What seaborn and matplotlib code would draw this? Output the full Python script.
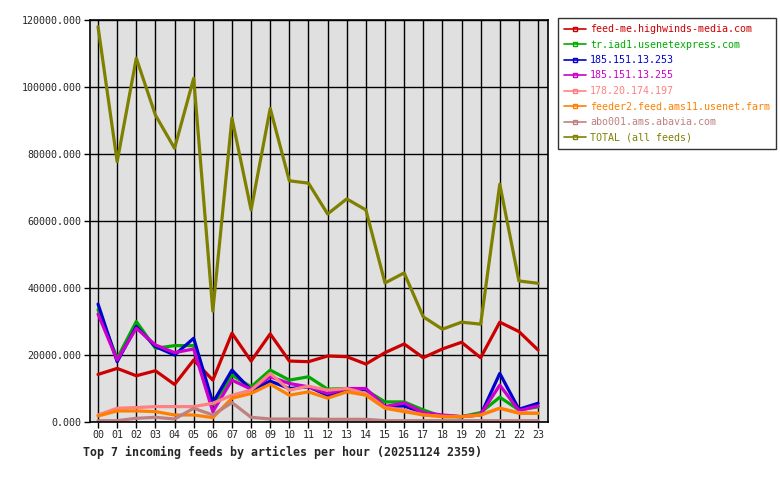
import matplotlib
matplotlib.use('Agg')
import matplotlib.pyplot as plt
import numpy as np
import pandas as pd
import seaborn as sns
from matplotlib.lines import Line2D

hours = [f'{h:02d}' for h in range(24)]

feeds = [
    'feed-me.highwinds-media.com',
    'tr.iad1.usenetexpress.com',
    '185.151.13.253',
    '185.151.13.255',
    '178.20.174.197',
    'feeder2.feed.ams11.usenet.farm',
    'abo001.ams.abavia.com',
    'TOTAL (all feeds)',
]

colors = ['#cc0000', '#00aa00', '#0000cc', '#cc00cc',
          '#ff8080', '#ff8000', '#c08080', '#808000']

highwinds = [14200, 16000, 13800, 15300, 11200, 18500, 12500, 26500, 18200, 26300, 18200, 18000,
             19700, 19500, 17300, 20700, 23300, 19200, 21800, 23800, 19200, 29800, 27000, 21500]
usenetexpress = [33500, 19000, 30000, 22000, 22800, 22800, 5100, 14000, 10500, 15500, 12500, 13500,
                 9800, 10000, 9500, 6000, 6000, 3600, 1600, 1600, 2800, 7400, 3600, 4500]
ip_253 = [35200, 18000, 28500, 22500, 20000, 25000, 5700, 15500, 9500, 12200, 10000, 10500,
          8000, 9500, 9800, 4600, 4800, 2600, 1800, 1600, 2100, 14500, 3800, 5600]
ip_255 = [32200, 18500, 28000, 23000, 20700, 21800, 3100, 12500, 9800, 13500, 11500, 10500,
          8500, 10000, 10000, 4600, 5700, 2800, 2100, 1600, 2300, 11000, 3400, 4800]
ip_197 = [2100, 4100, 4300, 4600, 4600, 4600, 5600, 8000, 9500, 14500, 9500, 10700,
          9500, 10000, 8500, 4300, 3600, 2100, 1700, 1600, 2100, 4100, 2800, 2600]
ams11 = [1800, 3300, 3300, 3100, 2100, 2100, 1300, 7100, 8500, 11300, 8000, 9000,
         7100, 9000, 8000, 4100, 3100, 2100, 1600, 1600, 2100, 4100, 2600, 2600]
abavia = [400, 400, 1100, 1400, 900, 4100, 2100, 5800, 1400, 900, 900, 900,
          800, 800, 800, 400, 400, 400, 400, 400, 400, 400, 400, 400]
total = [118000, 77700, 108600, 91600, 81700, 102600, 33100, 90700, 63300, 93600, 72000, 71300,
         62100, 66600, 63300, 41500, 44500, 31400, 27700, 29800, 29200, 71000, 42100, 41400]

series = [highwinds, usenetexpress, ip_253, ip_255, ip_197, ams11, abavia, total]

df = pd.concat(
    [pd.DataFrame({'hour': range(24), 'articles': vals, 'feed': name})
     for name, vals in zip(feeds, series)],
    ignore_index=True,
)

sns.set_theme(style='ticks')
plt.rcParams['font.family'] = ['DejaVu Sans Mono', 'DejaVu Sans']

fig = plt.figure(figsize=(7.8, 4.8), dpi=100)
ax = fig.add_axes([90 / 780, 1 - 422 / 480, 458 / 780, 402 / 480])
ax.set_facecolor('#e0e0e0')

sns.lineplot(data=df, x='hour', y='articles', hue='feed', hue_order=feeds,
             palette=colors, linewidth=2.3, legend=False, ax=ax)

ax.set_xlim(-0.42, 23.52)
ax.set_ylim(0, 120000)
ax.set_xticks(range(24))
ax.set_xticklabels(hours)
ax.set_yticks(np.arange(0, 120001, 20000))
ax.set_yticklabels([f'{v:.3f}' for v in np.arange(0, 120001, 20000)])
ax.grid(True, color='black', linewidth=1)
ax.set_axisbelow(True)
for s in ax.spines.values():
    s.set_color('black')
    s.set_linewidth(1.2)
ax.tick_params(axis='both', length=4, width=1, color='black', labelsize=7.2, pad=2)
ax.set_xlabel('')
ax.set_ylabel('')

handles = [Line2D([0], [0], color=c, linewidth=1.2, marker='s', markersize=2.5,
                  fillstyle='none') for c in colors]
leg = fig.legend(handles, feeds, loc='upper left', bbox_to_anchor=(558 / 780, 1 - 18 / 480),
                 fontsize=7.2, frameon=True, fancybox=False, handlelength=2.2,
                 handletextpad=0.4, borderpad=0.6, labelspacing=0.55, borderaxespad=0)
leg.get_frame().set_edgecolor('black')
leg.get_frame().set_linewidth(1)
for txt, c in zip(leg.get_texts(), colors):
    txt.set_color(c)

fig.text(83 / 780, 1 - 452 / 480, 'Top 7 incoming feeds by articles per hour (20251124 2359)',
         fontsize=8.4, fontweight='bold', va='center', ha='left')

fig.savefig('out.png', dpi=100, facecolor='white')
